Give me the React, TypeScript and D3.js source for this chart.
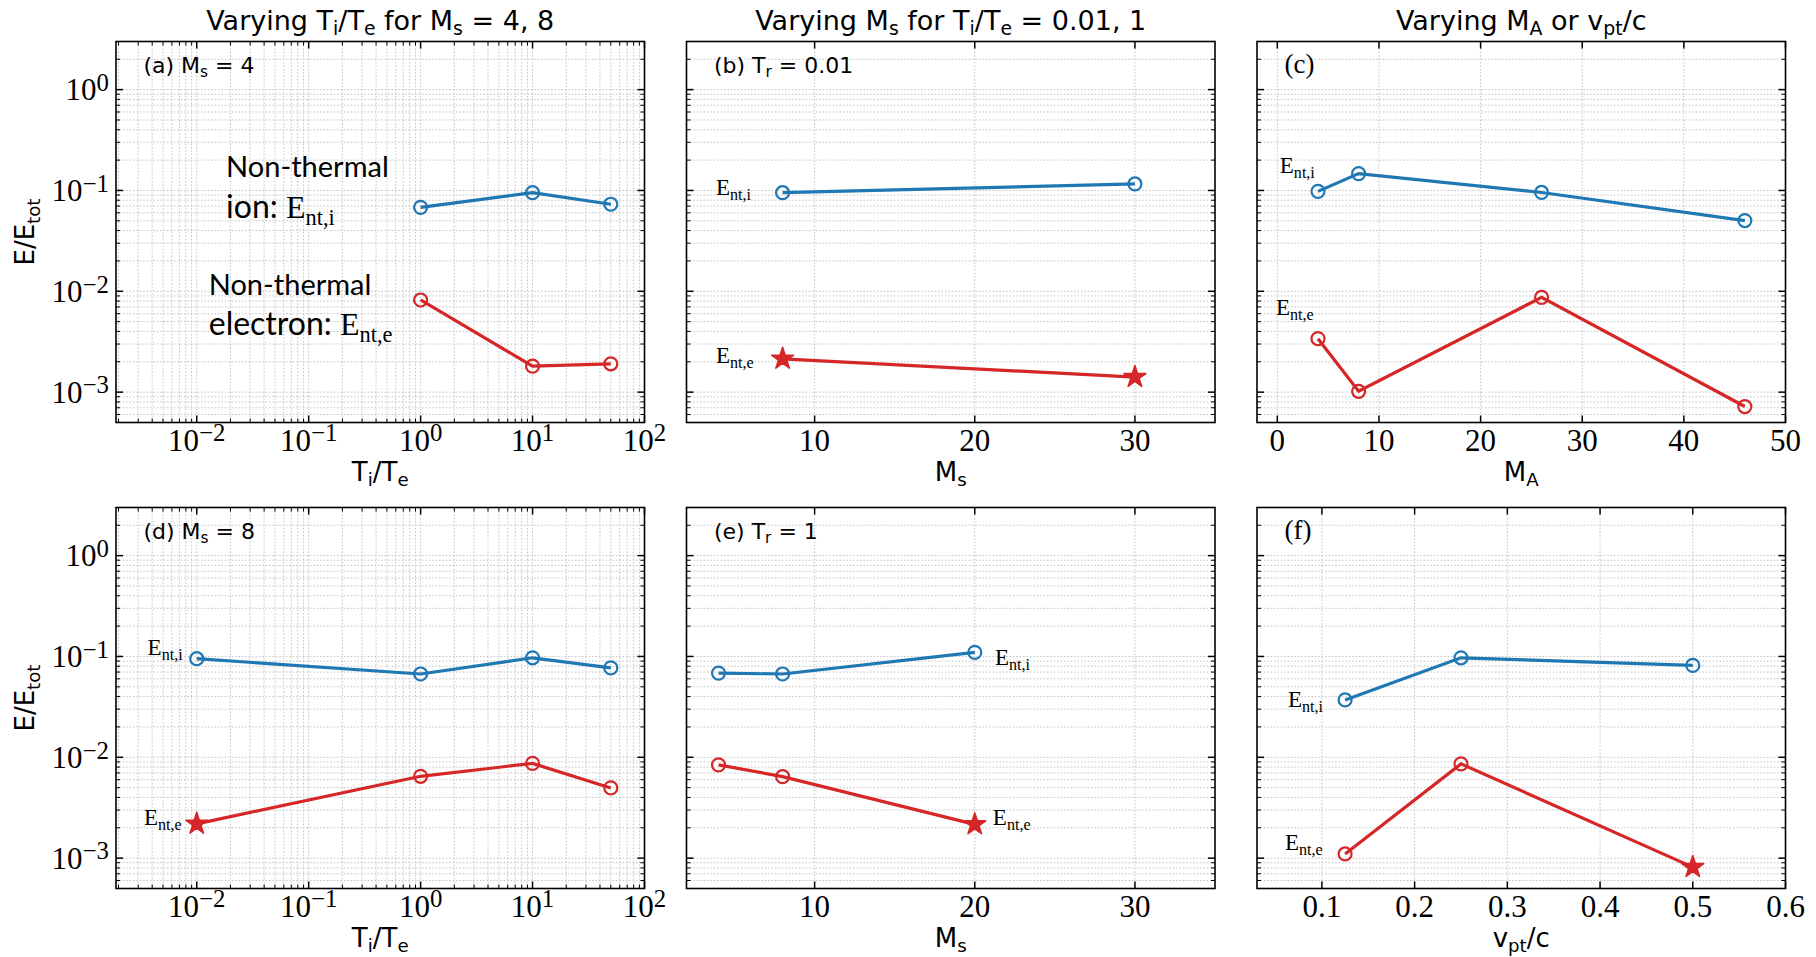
import React from 'react'
import * as d3 from 'd3'

const width = 1816
const height = 957

// panel (a): varying Ti/Te for Ms = 4
const tiTeA = [1, 10, 50]
const ionA = [0.068, 0.095, 0.073]
const eleA = [0.0082, 0.00181, 0.00191]
const starA = [false, false, false]

// panel (b): varying Ms for Ti/Te = 0.01
const msB = [8, 30]
const ionB = [0.095, 0.116]
const eleB = [0.00214, 0.00141]
const starB = [true, true]

// panel (c): varying MA
const maC = [4, 8, 26, 46]
const ionC = [0.098, 0.147, 0.0955, 0.0503]
const eleC = [0.00339, 0.00102, 0.0087, 0.00072]
const starC = [false, false, false, false]

// panel (d): varying Ti/Te for Ms = 8
const tiTeD = [0.01, 1, 10, 50]
const ionD = [0.095, 0.067, 0.097, 0.077]
const eleD = [0.00219, 0.00648, 0.0087, 0.00497]
const starD = [true, false, false, false]

// panel (e): varying Ms for Ti/Te = 1
const msE = [4, 8, 20]
const ionE = [0.0684, 0.067, 0.1096]
const eleE = [0.0084, 0.00643, 0.00216]
const starE = [false, false, true]

// panel (f): varying vpt/c
const vptF = [0.125, 0.25, 0.5]
const ionF = [0.0371, 0.097, 0.0815]
const eleF = [0.0011, 0.0086, 0.000814]
const starF = [false, false, true]

// axes
const yDomain = [5e-4, 3]
const yMajor = [1e-3, 1e-2, 1e-1, 1]
const tiTeDomain = [0.0019, 100]
const tiTeTicks = [1e-2, 1e-1, 1, 10, 100]
const msDomain = [2, 35]
const msTicks = [10, 20, 30]
const maDomain = [-2, 50]
const maTicks = [0, 10, 20, 30, 40, 50]
const vptDomain = [0.03, 0.6]
const vptTicks = [0.1, 0.2, 0.3, 0.4, 0.5, 0.6]

const blue = '#1f77b4'
const red = '#d62728'
const sans = 'DejaVu Sans'
const serif = 'Liberation Serif'
const callout = 'Lato'

const colX = [116, 686.5, 1257]
const rowY = [41.5, 507.5]
const pw = 528.5
const ph = 381

// [text, 0 normal | 1 sub | 2 sup, font family]
type Seg = [string, number, string?]

function Rich({ segs, size, family, supScale = 0.7, supRaise = 0.36, ...rest }: any) {
    let cur = 0
    return (
        <text fontSize={size} fontFamily={family} style={{ whiteSpace: 'pre' }} {...rest}>
            {segs.map(([t, k, f]: Seg, i: number) => {
                const target = k === 1 ? 0.22 * size : k === 2 ? -supRaise * size : 0
                const dy = target - cur
                cur = target
                const fs = k === 1 ? size * 0.7 : k === 2 ? size * supScale : size
                return (
                    <tspan key={i} dy={dy} fontSize={fs} fontFamily={f || family}>
                        {t}
                    </tspan>
                )
            })}
        </text>
    )
}

const Eni: Seg[] = [['E', 0], ['nt,i', 1]]
const Ene: Seg[] = [['E', 0], ['nt,e', 1]]

function Panel(p: any) {
    const { x0, y0, logX, xDomain, xTicks, xLabel, xs, ion, ele, star, label, labelSerif, showY, notes } = p
    const x = logX
        ? d3.scaleLog().domain(xDomain).range([x0, x0 + pw])
        : d3.scaleLinear().domain(xDomain).range([x0, x0 + pw])
    const y = d3.scaleLog().domain(yDomain).range([y0 + ph, y0])

    const yAll = y.ticks().filter((v) => v >= yDomain[0] * 0.999 && v <= yDomain[1] * 1.001)
    const isMajor = (v: number) => Math.abs(Math.log10(v) - Math.round(Math.log10(v))) < 1e-6
    const xAll = logX ? (x as any).ticks().filter((v: number) => v >= xDomain[0] && v <= xDomain[1]) : xTicks
    const xMinor = logX ? xAll.filter((v: number) => !isMajor(v)) : []

    const line = d3
        .line<number>()
        .x((d, i) => x(xs[i]))
        .y((d) => y(d))
    const starPath = d3.symbol(d3.symbolStar, 150)()

    const grid = { stroke: '#c4c4c4', strokeWidth: 1, strokeDasharray: '1.6,1.8' }
    const tk = (len: number, w: number) => ({ stroke: '#000', strokeWidth: w, len })

    const left = x0
    const right = x0 + pw
    const top = y0
    const bottom = y0 + ph

    const xTick = (v: number, t: any, key: string) => (
        <g key={key}>
            <line x1={x(v)} x2={x(v)} y1={bottom} y2={bottom - t.len} stroke={t.stroke} strokeWidth={t.strokeWidth} />
            <line x1={x(v)} x2={x(v)} y1={top} y2={top + t.len} stroke={t.stroke} strokeWidth={t.strokeWidth} />
        </g>
    )
    const yTick = (v: number, t: any, key: string) => (
        <g key={key}>
            <line x1={left} x2={left + t.len} y1={y(v)} y2={y(v)} stroke={t.stroke} strokeWidth={t.strokeWidth} />
            <line x1={right} x2={right - t.len} y1={y(v)} y2={y(v)} stroke={t.stroke} strokeWidth={t.strokeWidth} />
        </g>
    )

    const expLabel = (v: number): Seg[] => {
        const e = Math.round(Math.log10(v))
        return [['10', 0], [e < 0 ? '\u2212' + -e : String(e), 2]]
    }

    return (
        <g>
            {/* grid */}
            {yAll.map((v: number, i: number) => (
                <line key={'gy' + i} x1={left} x2={right} y1={y(v)} y2={y(v)} {...grid} />
            ))}
            {xAll.map((v: number, i: number) => (
                <line key={'gx' + i} x1={x(v)} x2={x(v)} y1={top} y2={bottom} {...grid} />
            ))}

            {/* ticks */}
            {yAll.filter((v: number) => !isMajor(v)).map((v: number, i: number) => yTick(v, tk(4, 1), 'ym' + i))}
            {yMajor.map((v, i) => yTick(v, tk(7, 1.5), 'yM' + i))}
            {xMinor.map((v: number, i: number) => xTick(v, tk(4, 1), 'xm' + i))}
            {xTicks.map((v: number, i: number) => xTick(v, tk(7, 1.5), 'xM' + i))}

            {/* data */}
            <path d={line(ion) || ''} fill="none" stroke={blue} strokeWidth={3.2} />
            {ion.map((v: number, i: number) => (
                <circle key={'ci' + i} cx={x(xs[i])} cy={y(v)} r={6.5} fill="none" stroke={blue} strokeWidth={2.2} />
            ))}
            <path d={line(ele) || ''} fill="none" stroke={red} strokeWidth={3.2} />
            {ele.map((v: number, i: number) =>
                star[i] ? (
                    <path
                        key={'se' + i}
                        d={starPath || ''}
                        transform={`translate(${x(xs[i])},${y(v)})`}
                        fill={red}
                        stroke={red}
                        strokeWidth={1.5}
                        strokeLinejoin="round"
                    />
                ) : (
                    <circle key={'ce' + i} cx={x(xs[i])} cy={y(v)} r={6.5} fill="none" stroke={red} strokeWidth={2.2} />
                )
            )}

            {/* frame */}
            <rect x={left} y={top} width={pw} height={ph} fill="none" stroke="#000" strokeWidth={1.6} />

            {/* tick labels */}
            {xTicks.map((v: number, i: number) =>
                logX ? (
                    <Rich
                        key={'xl' + i}
                        segs={expLabel(v)}
                        size={31}
                        family={serif}
                        supScale={0.8}
                        supRaise={0.3}
                        x={x(v)}
                        y={bottom + 28}
                        textAnchor="middle"
                    />
                ) : (
                    <text key={'xl' + i} x={x(v)} y={bottom + 28} textAnchor="middle" fontSize={31} fontFamily={serif}>
                        {String(v)}
                    </text>
                )
            )}
            {showY &&
                yMajor.map((v, i) => (
                    <Rich
                        key={'yl' + i}
                        segs={expLabel(v)}
                        size={31}
                        family={serif}
                        supScale={0.8}
                        supRaise={0.3}
                        x={left - 7}
                        y={y(v) + 10.5}
                        textAnchor="end"
                    />
                ))}

            {/* axis labels */}
            <Rich segs={xLabel} size={26} family={sans} x={left + pw / 2} y={bottom + 58} textAnchor="middle" />
            {showY && (
                <Rich
                    segs={[['E/E', 0], ['tot', 1]]}
                    size={26}
                    family={sans}
                    textAnchor="middle"
                    transform={`translate(34,${top + ph / 2}) rotate(-90)`}
                />
            )}

            {/* panel tag */}
            <Rich
                segs={label}
                size={labelSerif ? 27 : 22}
                family={labelSerif ? serif : sans}
                x={left + pw * 0.052}
                y={top + 31}
            />

            {/* annotations in data coordinates */}
            {notes.map((n: any, i: number) => (
                <Rich key={'n' + i} segs={n.segs} size={n.size || 23} family={n.family || serif} x={x(n.x)} y={y(n.y)} />
            ))}
        </g>
    )
}

const titles: Seg[][] = [
    [['Varying T', 0], ['i', 1], ['/T', 0], ['e', 1], [' for M', 0], ['s', 1], [' = 4, 8', 0]],
    [['Varying M', 0], ['s', 1], [' for T', 0], ['i', 1], ['/T', 0], ['e', 1], [' = 0.01, 1', 0]],
    [['Varying M', 0], ['A', 1], [' or v', 0], ['pt', 1], ['/c', 0]],
]

const tiTeLabel: Seg[] = [['T', 0], ['i', 1], ['/T', 0], ['e', 1]]
const msLabel: Seg[] = [['M', 0], ['s', 1]]
const maLabel: Seg[] = [['M', 0], ['A', 1]]
const vptLabel: Seg[] = [['v', 0], ['pt', 1], ['/c', 0]]

const panels = [
    {
        col: 0, row: 0, logX: true, xDomain: tiTeDomain, xTicks: tiTeTicks, xLabel: tiTeLabel,
        xs: tiTeA, ion: ionA, ele: eleA, star: starA, showY: true,
        label: [['(a) M', 0], ['s', 1], [' = 4', 0]],
        notes: [
            { x: 0.0183, y: 0.137, segs: [['Non-thermal', 0]], size: 29, family: callout },
            { x: 0.0183, y: 0.0533, segs: [['ion: ', 0, callout], ['E', 0], ['nt,i', 1]], size: 32, family: serif },
            { x: 0.0128, y: 0.0092, segs: [['Non-thermal', 0]], size: 29, family: callout },
            { x: 0.0128, y: 0.00369, segs: [['electron: ', 0, callout], ['E', 0], ['nt,e', 1]], size: 32, family: serif },
        ],
    },
    {
        col: 1, row: 0, logX: false, xDomain: msDomain, xTicks: msTicks, xLabel: msLabel,
        xs: msB, ion: ionB, ele: eleB, star: starB,
        label: [['(b) T', 0], ['r', 1], [' = 0.01', 0]],
        notes: [
            { x: 3.84, y: 0.0902, segs: Eni },
            { x: 3.84, y: 0.00195, segs: Ene },
        ],
    },
    {
        col: 2, row: 0, logX: false, xDomain: maDomain, xTicks: maTicks, xLabel: maLabel,
        xs: maC, ion: ionC, ele: eleC, star: starC, labelSerif: true,
        label: [['(c)', 0]],
        notes: [
            { x: 0.24, y: 0.149, segs: Eni },
            { x: -0.13, y: 0.00582, segs: Ene },
        ],
    },
    {
        col: 0, row: 1, logX: true, xDomain: tiTeDomain, xTicks: tiTeTicks, xLabel: tiTeLabel,
        xs: tiTeD, ion: ionD, ele: eleD, star: starD, showY: true,
        label: [['(d) M', 0], ['s', 1], [' = 8', 0]],
        notes: [
            { x: 0.00364, y: 0.1034, segs: Eni },
            { x: 0.00338, y: 0.00213, segs: Ene },
        ],
    },
    {
        col: 1, row: 1, logX: false, xDomain: msDomain, xTicks: msTicks, xLabel: msLabel,
        xs: msE, ion: ionE, ele: eleE, star: starE,
        label: [['(e) T', 0], ['r', 1], [' = 1', 0]],
        notes: [
            { x: 21.26, y: 0.0823, segs: Eni },
            { x: 21.13, y: 0.00213, segs: Ene },
        ],
    },
    {
        col: 2, row: 1, logX: false, xDomain: vptDomain, xTicks: vptTicks, xLabel: vptLabel,
        xs: vptF, ion: ionF, ele: eleF, star: starF, labelSerif: true,
        label: [['(f)', 0]],
        notes: [
            { x: 0.0633, y: 0.0318, segs: Eni },
            { x: 0.0602, y: 0.00121, segs: Ene },
        ],
    },
]

export default function App() {
    return (
        <svg width={width} height={height} style={{ position: 'absolute', left: 0, top: 0, background: '#fff' }}>
            <rect width={width} height={height} fill="#fff" />
            {titles.map((t, i) => (
                <Rich key={'t' + i} segs={t} size={27} family={sans} x={colX[i] + pw / 2} y={29.5} textAnchor="middle" />
            ))}
            {panels.map((p, i) => (
                <Panel key={i} {...p} x0={colX[p.col]} y0={rowY[p.row]} />
            ))}
        </svg>
    )
}
